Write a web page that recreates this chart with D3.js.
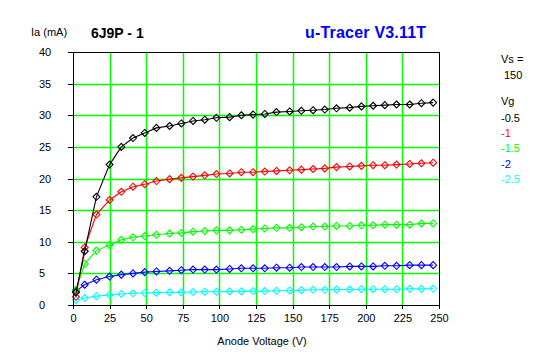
<!DOCTYPE html>
<html>
<head>
<meta charset="utf-8">
<script src="https://cdn.jsdelivr.net/npm/d3@7"></script>
<style>
html,body{margin:0;padding:0;background:#fff;}
svg{display:block;}
text{font-family:"Liberation Sans",Arial,sans-serif;}
</style>
</head>
<body>
<svg id="chart" width="547" height="357"></svg>
<script>
// ---- data ----
const anodeVoltage = [2, 8, 16, 25, 33, 41, 49, 57, 66, 74, 82, 90, 98, 107, 115, 123, 131, 139, 148, 156, 164, 172, 180, 189, 197, 205, 213, 221, 230, 238, 246];
const vgLabels = ["-0.5", "-1", "-1.5", "-2", "-2.5"];
const seriesColors = ["#000000", "#ff0000", "#00ff00", "#0000ff", "#00ffff"];
const iaVg05 = [2.0, 8.5, 17.1, 22.2, 25.0, 26.4, 27.2, 28.0, 28.3, 28.7, 29.1, 29.3, 29.6, 29.7, 30.0, 30.1, 30.2, 30.5, 30.6, 30.7, 30.8, 30.9, 31.1, 31.2, 31.4, 31.5, 31.6, 31.7, 31.7, 31.9, 32.0];
const iaVg10 = [1.3, 9.1, 14.3, 16.6, 17.9, 18.7, 19.1, 19.6, 19.9, 20.1, 20.3, 20.5, 20.7, 20.8, 21.0, 21.0, 21.1, 21.2, 21.3, 21.4, 21.5, 21.6, 21.8, 21.9, 22.0, 22.1, 22.1, 22.2, 22.3, 22.4, 22.5];
const iaVg15 = [2.4, 6.5, 8.6, 9.5, 10.3, 10.7, 10.9, 11.1, 11.3, 11.4, 11.6, 11.7, 11.8, 11.8, 11.9, 12.0, 12.1, 12.2, 12.2, 12.3, 12.4, 12.4, 12.5, 12.5, 12.6, 12.6, 12.7, 12.7, 12.7, 12.9, 12.9];
const iaVg20 = [2.2, 3.2, 4.0, 4.5, 4.8, 5.0, 5.2, 5.3, 5.4, 5.5, 5.6, 5.6, 5.6, 5.7, 5.8, 5.8, 5.8, 5.9, 5.9, 6.0, 6.0, 6.0, 6.0, 6.1, 6.1, 6.1, 6.2, 6.2, 6.3, 6.3, 6.3];
const iaVg25 = [0.8, 1.1, 1.4, 1.6, 1.75, 1.85, 1.9, 1.95, 2.0, 2.0, 2.05, 2.1, 2.1, 2.15, 2.15, 2.2, 2.2, 2.25, 2.3, 2.35, 2.4, 2.4, 2.45, 2.45, 2.5, 2.5, 2.5, 2.5, 2.55, 2.55, 2.6];
const xTicks = [0, 25, 50, 75, 100, 125, 150, 175, 200, 225, 250];
const yTicks = [0, 5, 10, 15, 20, 25, 30, 35, 40];
const tubeName = "6J9P - 1";
const tracerName = "u-Tracer V3.11T";
const vsValue = "150";

const allSeries = [iaVg05, iaVg10, iaVg15, iaVg20, iaVg25];

// ---- layout ----
const svg = d3.select("#chart");
const L = 73, R = 439, T = 52, B = 305;
const x = d3.scaleLinear().domain([0, 250]).range([L, R]);
const y = d3.scaleLinear().domain([0, 40]).range([B, T]);
const px = v => Math.round(v) + 0.5;

// grid
const grid = svg.append("g");
grid.selectAll("line.vx").data(xTicks.slice(1, -1)).enter().append("line")
  .attr("x1", d => px(x(d))).attr("x2", d => px(x(d)))
  .attr("y1", T).attr("y2", B)
  .attr("stroke", "#00ff00").attr("stroke-width", 1.5);
grid.selectAll("line.hy").data(yTicks.slice(1, -1)).enter().append("line")
  .attr("y1", d => px(y(d))).attr("y2", d => px(y(d)))
  .attr("x1", L).attr("x2", R)
  .attr("stroke", "#00ff00").attr("stroke-width", 1.5);

// axes
const xAxis = d3.axisBottom(x).tickValues(xTicks).tickSize(4).tickSizeOuter(0).tickPadding(3);
const yAxis = d3.axisLeft(y).tickValues(yTicks).tickSize(5).tickSizeOuter(0).tickPadding(3);
const gx = svg.append("g").attr("transform", `translate(0,${B})`).call(xAxis);
const gy = svg.append("g").attr("transform", `translate(${L},0)`).call(yAxis);
[gx, gy].forEach(g => {
  g.select(".domain").remove();
  g.selectAll("line").attr("stroke", "#000").attr("shape-rendering", "crispEdges");
  g.selectAll("text").attr("font-size", 11).attr("fill", "#000")
    .attr("font-family", '"Liberation Sans",Arial,sans-serif');
});
gx.selectAll("text").attr("dy", "0.95em");
gy.selectAll("text").attr("text-anchor", "start").attr("x", 39 - L);

// curves
const line = d3.line().x((d, i) => x(anodeVoltage[i])).y(d => y(d));
const diamond = "M0,-3.5L3.5,0L0,3.5L-3.5,0Z";
const plot = svg.append("g");
allSeries.slice().reverse().forEach((s, ri) => {
  const idx = allSeries.length - 1 - ri;
  const c = seriesColors[idx];
  const g = plot.append("g");
  g.append("path").attr("d", line(s)).attr("fill", "none").attr("stroke", c).attr("stroke-width", 1.1);
  g.selectAll("path.m").data(s).enter().append("path")
    .attr("class", "m")
    .attr("d", diamond)
    .attr("transform", (d, i) => `translate(${x(anodeVoltage[i])},${y(d)})`)
    .attr("fill", "none").attr("stroke", c).attr("stroke-width", 1.1);
});

// border
svg.append("rect").attr("x", L + 0.5).attr("y", T + 0.5)
  .attr("width", R - L).attr("height", B - T)
  .attr("fill", "none").attr("stroke", "#000").attr("stroke-width", 1)
  .attr("shape-rendering", "crispEdges");

// titles
svg.append("text").attr("x", 31).attr("y", 36).attr("font-size", 11).text("Ia (mA)");
svg.append("text").attr("x", 91).attr("y", 37.5).attr("font-size", 14).attr("font-weight", "bold").text(tubeName);
svg.append("text").attr("x", 305).attr("y", 38).attr("font-size", 16).attr("font-weight", "bold")
  .attr("fill", "#0000ff").attr("letter-spacing", 0.2).text(tracerName);
svg.append("text").attr("x", 262).attr("y", 345).attr("font-size", 11).attr("text-anchor", "middle").text("Anode Voltage (V)");

// legend
svg.append("text").attr("x", 501).attr("y", 63).attr("font-size", 11).text("Vs =");
svg.append("text").attr("x", 504).attr("y", 79).attr("font-size", 11).text(vsValue);
svg.append("text").attr("x", 501).attr("y", 105).attr("font-size", 11).text("Vg");
vgLabels.forEach((lab, i) => {
  svg.append("text").attr("x", 501).attr("y", 122 + i * 15.2).attr("font-size", 11)
    .attr("fill", seriesColors[i]).text(lab);
});
</script>
</body>
</html>
